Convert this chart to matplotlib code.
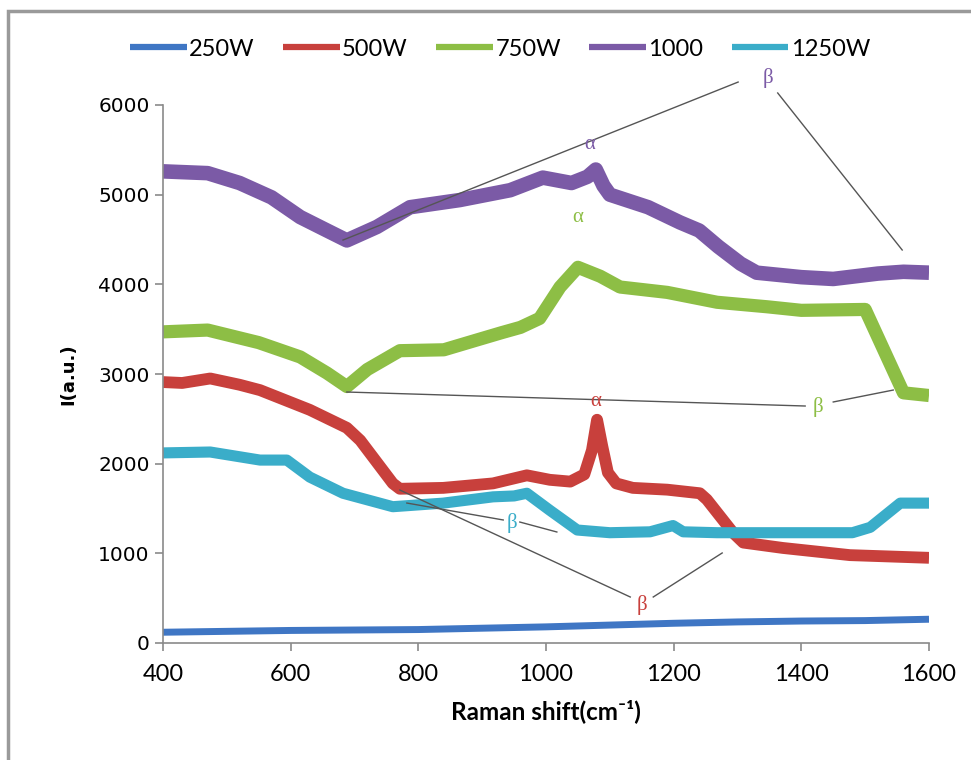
import matplotlib
matplotlib.use('Agg')
import matplotlib.pyplot as plt
from matplotlib.patches import Rectangle

# 데이터
x_250 = [400, 500, 600, 700, 800, 900, 1000, 1100, 1200, 1300, 1400, 1500, 1600]
y_250 = [120, 130, 140, 145, 150, 165, 180, 200, 220, 235, 245, 250, 265]

x_500 = [400, 430, 474, 520, 552, 630, 688, 709, 760, 771, 839, 917, 970, 1006, 1038, 1060, 1072, 1080, 1088,
         1097, 1110, 1136, 1190, 1241, 1252, 1293, 1309, 1371, 1476, 1600]
y_500 = [2910, 2900, 2950, 2880, 2820, 2600, 2400, 2260, 1780, 1720, 1730, 1780, 1870, 1820, 1800, 1880, 2150,
         2490, 2200, 1900, 1780, 1730, 1710, 1670, 1600, 1230, 1120, 1060, 980, 950]

x_750 = [400, 470, 550, 615, 657, 688, 720, 771, 840, 892, 930, 960, 990, 1022, 1050, 1085, 1116, 1190, 1268,
         1346, 1400, 1500, 1560, 1600]
y_750 = [3470, 3490, 3350, 3190, 3010, 2860, 3050, 3260, 3270, 3380, 3460, 3520, 3620, 3970, 4190, 4090, 3970,
         3910, 3800, 3750, 3710, 3720, 2790, 2760]

x_1000 = [400, 470, 520, 570, 615, 657, 688, 735, 787, 865, 944, 995, 1040, 1065, 1078, 1090, 1100, 1160, 1210,
          1240, 1270, 1305, 1330, 1400, 1450, 1520, 1560, 1600]
y_1000 = [5260, 5240, 5130, 4970, 4750, 4600, 4490, 4640, 4860, 4940, 5050, 5190, 5130, 5200, 5280, 5100, 5000,
          4860, 4690, 4600, 4420, 4230, 4130, 4080, 4060, 4120, 4140, 4130]

x_1250 = [400, 474, 552, 594, 630, 682, 760, 839, 917, 950, 970, 1006, 1049, 1100, 1163, 1199, 1215, 1268, 1400,
          1480, 1508, 1555, 1600]
y_1250 = [2120, 2130, 2040, 2040, 1850, 1670, 1520, 1560, 1630, 1640, 1670, 1480, 1260, 1230, 1240, 1310, 1240,
          1230, 1230, 1230, 1290, 1560, 1560]

labels = ['250W', '500W', '750W', '1000', '1250W']
colors = ['#3F76C4', '#C8403C', '#8DBE45', '#7B5AA6', '#3AADC9']
widths = [5, 8.5, 9.5, 10.5, 8]

fig = plt.figure(figsize=(9.71, 7.6), dpi=100)
ax = fig.add_axes([163/971, 1-643/760, (929-163)/971, (643-105)/760])

xs = [x_250, x_500, x_750, x_1000, x_1250]
ys = [y_250, y_500, y_750, y_1000, y_1250]
for xx, yy, lab, c, w in zip(xs, ys, labels, colors, widths):
    ax.plot(xx, yy, color=c, lw=w, label=lab, solid_joinstyle='round', solid_capstyle='butt')

ax.set_xlim(400, 1600)
ax.set_ylim(0, 6000)
ax.set_xticks(range(400, 1601, 200))
ax.set_yticks(range(0, 6001, 1000))

for s in ['top', 'right']:
    ax.spines[s].set_visible(False)
for s in ['left', 'bottom']:
    ax.spines[s].set_color('#8a8a8a')
    ax.spines[s].set_linewidth(1.2)
ax.tick_params(axis='both', direction='out', length=6, color='#8a8a8a', width=1.2)
ax.tick_params(axis='x', pad=9)
for t in ax.get_xticklabels():
    t.set_family(['Lato', 'DejaVu Sans'])
    t.set_fontsize(17)
for t in ax.get_yticklabels():
    t.set_family('DejaVu Sans')
    t.set_fontsize(14.5)

ax.set_xlabel('Raman shift(cm⁻¹)', family=['Lato', 'DejaVu Sans'],
              fontsize=17.5, fontweight='bold', labelpad=10)
ax.set_ylabel('I(a.u.)', family='DejaVu Sans', fontsize=13, fontweight='bold', labelpad=15)

# 주석 (α, β 와 선)
lc = '#555555'
ax.plot([682, 1301], [4494, 6256], color=lc, lw=1, clip_on=False)
ax.plot([1363, 1558], [6134, 4383], color=lc, lw=1, clip_on=False)
ax.plot([688, 1406], [2799, 2643], color=lc, lw=1)
ax.plot([1450, 1544], [2688, 2821], color=lc, lw=1)
ax.plot([771, 1132], [1706, 513], color=lc, lw=1)
ax.plot([1168, 1276], [513, 1004], color=lc, lw=1)
ax.plot([782, 933], [1561, 1372], color=lc, lw=1)
ax.plot([959, 1017], [1349, 1238], color=lc, lw=1)

sf = ['Liberation Serif', 'DejaVu Serif']
ax.text(1069, 5554, 'α', color=colors[3], family=sf, fontsize=15, ha='center', va='center')
ax.text(1348, 6300, 'β', color=colors[3], family=sf, fontsize=15, ha='center', va='center', clip_on=False)
ax.text(1050, 4740, 'α', color=colors[2], family=sf, fontsize=15, ha='center', va='center')
ax.text(1426, 2632, 'β', color=colors[2], family=sf, fontsize=15, ha='center', va='center')
ax.text(1078, 2688, 'α', color=colors[1], family=sf, fontsize=15, ha='center', va='center')
ax.text(1150, 424, 'β', color=colors[1], family=sf, fontsize=15, ha='center', va='center')
ax.text(947, 1338, 'β', color=colors[4], family=sf, fontsize=15, ha='center', va='center')

leg = fig.legend(loc='center', bbox_to_anchor=(0.515, 1-49/760), ncol=5, frameon=False,
                 handlelength=2.4, handletextpad=0.1, columnspacing=1.2,
                 prop={'family': ['Lato', 'DejaVu Sans'], 'size': 17})
for h in leg.get_lines():
    h.set_linewidth(4.5)

# 바깥 테두리
fig.patches.append(Rectangle((8/971, -0.05), 1.2, 1.05-11/760, transform=fig.transFigure,
                             fill=False, edgecolor='#9a9a9a', lw=2.5))

plt.savefig('out.png')
